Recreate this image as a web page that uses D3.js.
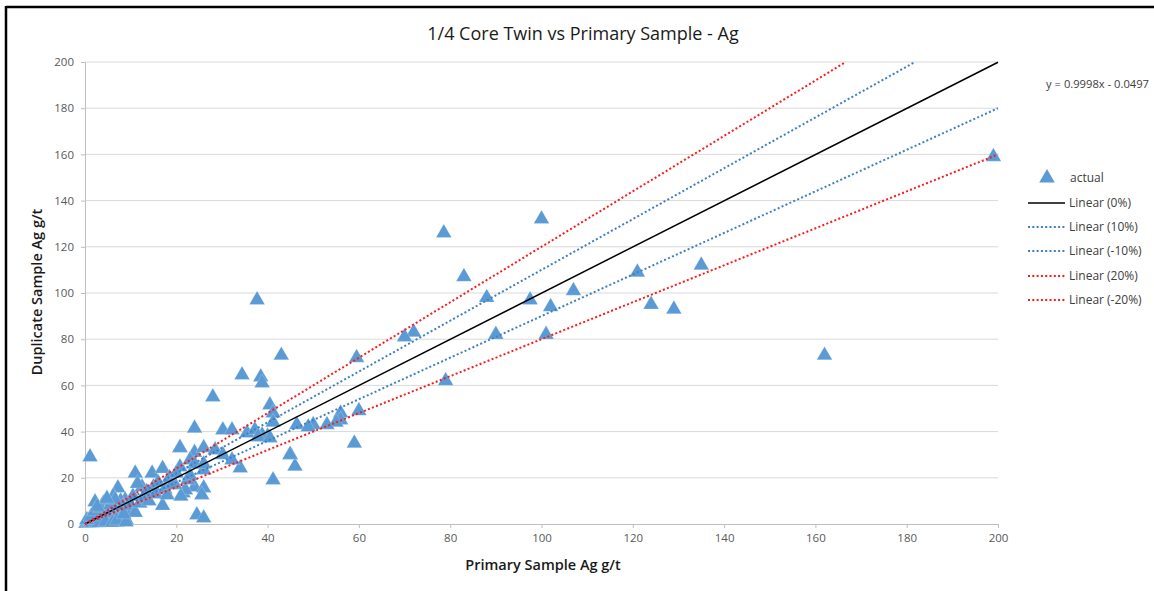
<!DOCTYPE html>
<html><head><meta charset="utf-8">
<script src="https://cdn.jsdelivr.net/npm/d3@7"></script>
<style>body{margin:0;background:#fff;} text{font-family:"Open Sans",sans-serif;}</style>
</head><body>
<svg id="c" width="1154" height="591"></svg>
<script>
const title = "1/4 Core Twin vs Primary Sample - Ag";
const xLabel = "Primary Sample Ag g/t";
const yLabel = "Duplicate Sample Ag g/t";
const xTicks = [0,20,40,60,80,100,120,140,160,180,200];
const yTicks = [0,20,40,60,80,100,120,140,160,180,200];
const equation = "y = 0.9998x - 0.0497";
const primary = [199,162,135,129,124,121,107,101,102,97.5,100,90,88,83,78.6,79,72,70,59.5,60,59,56,56,55,53,50,46.4,46,45,43,41.2,40.5,41.2,41.2,40,38.8,37.7,38.5,38.8,34.4,34,35.5,37.2,37.9,40.5,30.2,32.2,28,24,48.9,
 20.8,24,26,28.5,30.2,44.9,32.2,20.8,23,26,24,26,21.5,25.6,24.5,26,
 1.1,20.8,11,14.7,17,7.2,2.2,4,15,22,17,24,26,21,19.7,12.5,8.8,
 0.2,0.5,0.8,1,1.2,1.5,1.8,2,2.5,2.8,3,3.2,3.5,3.8,4,4.3,4.6,5,5.2,5.5,5.8,6,6.2,6.5,6.8,7,7.5,7.8,8,8.3,9,9.5,10,10.5,11,11.5,12,13,13.5,14,15.5,16,17.5,18,18.5,19,20,22.5,23,1.5,2.5,3,4.5,6,7,9,
 0.4,1.3,2.1,3.4,5.6,6.6,8.5,2.7,4.8];
const duplicate = [159,73,112,93,95,109,101,82,94,97,132,82,98,107,126,62,83,81,72,49,35,48,45,44,43,43,43,25,30,73,19,51.5,48,44,38,38.5,97,63.6,61,64.5,24.2,39.4,40.7,37.7,37.2,40.7,40.7,55,41.5,42,
 33,31,33,32,30,30,27.7,24.7,27.7,23.4,16,15.6,13.4,12.6,3.9,2.6,
 29,33,22,22,24,15.6,9.5,9,16,14.7,8,26,26,12,17,16,10.4,
 0.2,0.8,0.4,1.5,0.6,2.5,1.2,3.5,2,5,1,6.5,3,8,1.5,4.5,2.5,6,1,3.5,9.5,4.8,12,2,7,0.8,5.5,10,3,7.5,2,6,8,12,5,17.5,9,11,14,10,13,18,15,12.5,20,17,22,19,21,0.5,0.8,0.5,1,0.6,1.5,0.9,
 1.8,3.2,5.5,6.8,8.2,10.5,4.2,7.5,11];
const trendNames = ["Linear (0%)","Linear (10%)","Linear (-10%)","Linear (20%)","Linear (-20%)"];
const trendSlopes = [0.9998,1.1,0.9,1.2,0.8];
const trendIntercepts = [-0.0497,0,0,0,0];

const svg = d3.select("#c");
const m = {l:85, r:998, t:62, b:524};
const x = d3.scaleLinear().domain([0,200]).range([m.l,m.r]);
const y = d3.scaleLinear().domain([0,200]).range([m.b,m.t]);

// frame
svg.append("line").attr("x1",6).attr("x2",1154).attr("y1",7).attr("y2",7).attr("stroke","#000").attr("stroke-width",2.5);
svg.append("line").attr("x1",6).attr("x2",6).attr("y1",6).attr("y2",591).attr("stroke","#000").attr("stroke-width",2.5);

// grid
svg.append("g").selectAll("line").data(yTicks.filter(d=>d>0)).join("line")
  .attr("x1",m.l).attr("x2",m.r).attr("y1",d=>y(d)).attr("y2",d=>y(d))
  .attr("stroke","#d9d9d9").attr("stroke-width",1);

const gy = svg.append("g").attr("transform",`translate(${m.l},0)`)
  .call(d3.axisLeft(y).tickValues(yTicks).tickSize(4).tickPadding(7));
const gx = svg.append("g").attr("transform",`translate(0,${m.b})`)
  .call(d3.axisBottom(x).tickValues(xTicks).tickSize(4).tickPadding(6));
[gx,gy].forEach(g=>{
  g.select(".domain").attr("stroke","#bfbfbf");
  g.selectAll(".tick line").attr("stroke","#bfbfbf");
  g.selectAll(".tick text").attr("fill","#595959").attr("font-size",11.5).attr("font-family","'Open Sans',sans-serif");
});

// points
const pts = primary.map((p,i)=>({x:p,y:duplicate[i]}));
const tri = d3.symbol().type(d3.symbolTriangle).size(105);
svg.append("g").selectAll("path").data(pts).join("path")
  .attr("d",tri).attr("transform",d=>`translate(${x(d.x)},${y(d.y)})`)
  .attr("fill","#5b9bd5").attr("stroke","#fff").attr("stroke-width",0.4).attr("stroke-opacity",0.5);

// trend lines
const styles = [
  {c:"#000", d:null, w:1.5},
  {c:"#3f7fc2", d:"2,2.3", w:2},
  {c:"#3f7fc2", d:"2,2.3", w:2},
  {c:"#ff1a1a", d:"2,2.3", w:2},
  {c:"#ff1a1a", d:"2,2.3", w:2}
];
trendSlopes.forEach((s,i)=>{
  const b = trendIntercepts[i];
  const xEnd = Math.min(200,(200-b)/s);
  const l = svg.append("line").attr("x1",x(0)).attr("y1",y(Math.max(0,b)))
    .attr("x2",x(xEnd)).attr("y2",y(s*xEnd+b))
    .attr("stroke",styles[i].c).attr("stroke-width",styles[i].w);
  if(styles[i].d) l.attr("stroke-dasharray",styles[i].d);
});

// title & labels
svg.append("text").attr("x",583).attr("y",40).attr("text-anchor","middle").attr("font-size",18).attr("fill","#1a1a1a").text(title);
svg.append("text").attr("x",543).attr("y",570).attr("text-anchor","middle").attr("font-size",14.5).attr("font-weight",600).attr("fill","#1a1a1a").text(xLabel);
svg.append("text").attr("transform","translate(42,292) rotate(-90)").attr("text-anchor","middle").attr("font-size",14.5).attr("font-weight",600).attr("fill","#1a1a1a").text(yLabel);
svg.append("text").attr("x",1149).attr("y",88).attr("text-anchor","end").attr("font-size",11.2).attr("fill","#404040").text(equation);

// legend
const lg = svg.append("g");
const rowY = [178,203,227,251,276,300];
lg.append("path").attr("d",tri).attr("transform",`translate(1047,${rowY[0]})`).attr("fill","#5b9bd5");
lg.append("text").attr("x",1070).attr("y",rowY[0]+4).attr("font-size",12).attr("fill","#404040").text("actual");
trendNames.forEach((n,i)=>{
  const yy = rowY[i+1];
  const l = lg.append("line").attr("x1",1028).attr("x2",1065).attr("y1",yy).attr("y2",yy)
    .attr("stroke",styles[i].c).attr("stroke-width",styles[i].w);
  if(styles[i].d) l.attr("stroke-dasharray",styles[i].d);
  lg.append("text").attr("x",1069).attr("y",yy+4).attr("font-size",12).attr("fill","#404040").text(n);
});
</script>
</body></html>
